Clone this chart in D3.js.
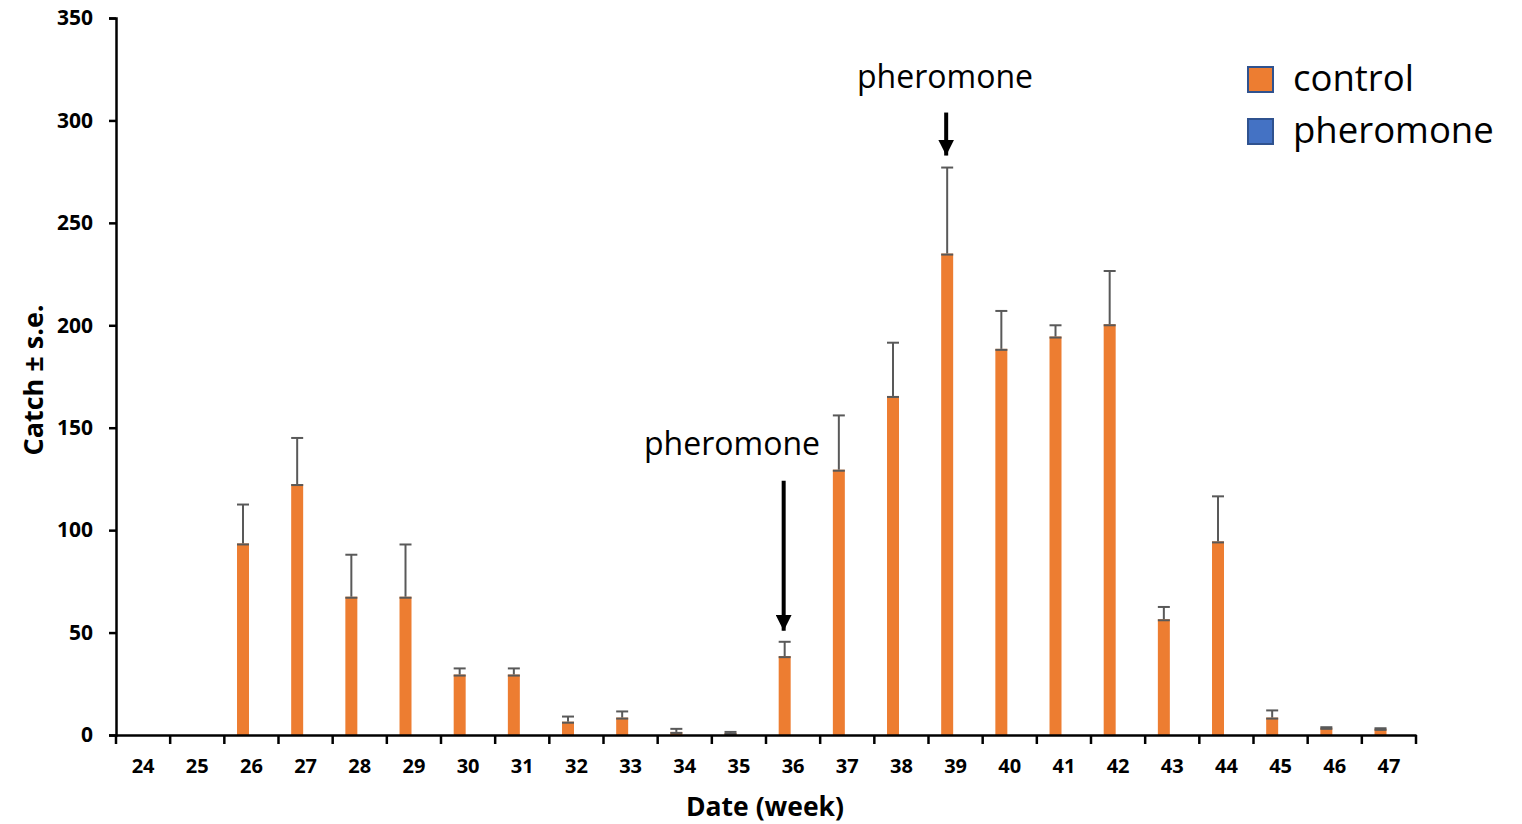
<!DOCTYPE html>
<html>
<head>
<meta charset="utf-8">
<script src="https://cdn.jsdelivr.net/npm/d3@7"></script>
<style>
body { margin: 0; background: #fff; }
text { font-family: "Open Sans", "Noto Sans", sans-serif; }
</style>
</head>
<body>
<script>
var w = 1522;
var h = 824;

var weeks = ["24","25","26","27","28","29","30","31","32","33","34","35","36","37","38","39","40","41","42","43","44","45","46","47"];
var control = [0, 0, 93.5, 122.5, 67.5, 67.5, 29.5, 29.5, 6.5, 8.5, 1.5, 1, 38.5, 129.5, 165.5, 235, 188.5, 194.5, 200.5, 56.5, 94.5, 8.5, 3.5, 3];
var controlErr = [0, 0, 19, 22.5, 20.5, 25.5, 3, 3, 2.5, 3, 1.5, 0.5, 7, 26.5, 26, 42, 18.5, 5.5, 26, 6, 22, 3.5, 0.3, 0.3];
var pheromone = [0, 0, 0, 0, 0, 0, 0, 0, 0, 0, 0, 0, 0, 0, 0, 0, 0, 0, 0, 0, 0, 0, 0, 0];
var yTicks = [0, 50, 100, 150, 200, 250, 300, 350];
var seriesNames = ["control", "pheromone"];
var seriesColors = ["#ed7d31", "#4472c4"];

var margin = {left: 116, right: 106, top: 18, bottom: 89};

var svg = d3.select("body")
    .append("svg")
    .attr("width", w)
    .attr("height", h);

var x = d3.scaleBand()
    .domain(weeks)
    .range([margin.left, w - margin.right]);

// two bars per week, control on the left, pheromone (empty) on the right
var x1 = d3.scaleBand()
    .domain(seriesNames)
    .range([0, x.bandwidth()])
    .paddingInner(0)
    .paddingOuter(1.26)
    .align(0.42);

var y = d3.scaleLinear()
    .domain([0, 350])
    .range([h - margin.bottom, margin.top]);

// bars
svg.selectAll("rect.control")
    .data(control)
    .enter()
    .append("rect")
    .attr("class", "control")
    .attr("x", function(d, i) { return x(weeks[i]) + x1("control"); })
    .attr("width", x1.bandwidth())
    .attr("y", function(d) { return y(d); })
    .attr("height", function(d) { return y(0) - y(d); })
    .attr("fill", seriesColors[0]);

// error bars
var errG = svg.append("g")
    .attr("stroke", "#595959")
    .attr("stroke-width", 2);

control.forEach(function(d, i) {
    if (d <= 0) return;
    var cx = x(weeks[i]) + x1("control") + x1.bandwidth() / 2;
    var top = y(d + controlErr[i]);
    errG.append("line")
        .attr("x1", cx).attr("x2", cx)
        .attr("y1", y(d)).attr("y2", top);
    errG.append("line")
        .attr("x1", cx - 6).attr("x2", cx + 6)
        .attr("y1", top).attr("y2", top);
    errG.append("line")
        .attr("x1", cx - 6).attr("x2", cx + 6)
        .attr("y1", y(d) + 1).attr("y2", y(d) + 1);
});

// y axis
var yAxis = svg.append("g")
    .attr("transform", "translate(" + margin.left + ",0)")
    .call(d3.axisLeft(y).tickValues(yTicks).tickSize(7).tickPadding(16));
yAxis.select(".domain").attr("stroke-width", 2.5);
yAxis.selectAll(".tick line").attr("stroke-width", 2.5);
yAxis.selectAll("text")
    .attr("font-size", "21px")
    .attr("font-weight", "bold")
    .attr("font-family", "'Open Sans', sans-serif")
    .attr("fill", "#000");

// x axis
var xAxis = svg.append("g")
    .attr("transform", "translate(0," + y(0) + ")")
    .call(d3.axisBottom(x).tickSize(0).tickPadding(24));
xAxis.select(".domain").attr("stroke-width", 2.5);
xAxis.selectAll("text")
    .attr("font-size", "20px")
    .attr("font-weight", "bold")
    .attr("font-family", "'Open Sans', sans-serif")
    .attr("fill", "#000");

var bounds = weeks.map(function(d) { return x(d); }).concat([x.range()[1]]);
svg.append("g")
    .selectAll("line")
    .data(bounds)
    .enter()
    .append("line")
    .attr("x1", function(d) { return d; })
    .attr("x2", function(d) { return d; })
    .attr("y1", y(0))
    .attr("y2", y(0) + 9)
    .attr("stroke", "black")
    .attr("stroke-width", 2.5);

// axis titles
svg.append("text")
    .attr("x", 765)
    .attr("y", 816)
    .attr("text-anchor", "middle")
    .attr("font-size", "26.5px")
    .attr("font-weight", "bold")
    .text("Date (week)");

svg.append("text")
    .attr("transform", "translate(43," + 380 + ") rotate(-90)")
    .attr("text-anchor", "middle")
    .attr("font-size", "27px")
    .attr("font-weight", "bold")
    .text("Catch ± s.e.");

// annotations
svg.append("defs").append("marker")
    .attr("id", "arrow")
    .attr("viewBox", "0 0 10 10")
    .attr("refX", 10).attr("refY", 5)
    .attr("markerWidth", 4).attr("markerHeight", 4)
    .attr("markerUnits", "strokeWidth")
    .attr("orient", "auto")
    .append("path")
    .attr("d", "M0,0 L10,5 L0,10 z")
    .attr("fill", "black");

var notes = [
    {week: "39", value: 277, len: 43, tx: 945, ty: 88},
    {week: "36", value: 45, len: 150, tx: 732, ty: 455}
];
notes.forEach(function(n) {
    var cx = x(n.week) + x1("control") + x1.bandwidth() / 2 - 1;
    var endY = y(n.value) - 12;
    svg.append("line")
        .attr("x1", cx).attr("x2", cx)
        .attr("y1", endY - n.len).attr("y2", endY)
        .attr("stroke", "black")
        .attr("stroke-width", 4)
        .attr("marker-end", "url(#arrow)");
    svg.append("text")
        .attr("x", n.tx).attr("y", n.ty)
        .attr("text-anchor", "middle")
        .attr("font-size", "32px")
        .text("pheromone");
});

// legend
var legend = svg.append("g")
    .selectAll("g")
    .data(seriesNames)
    .enter()
    .append("g")
    .attr("transform", function(d, i) { return "translate(1248," + (67 + i * 52) + ")"; });
legend.append("rect")
    .attr("width", 25)
    .attr("height", 25)
    .attr("fill", function(d, i) { return seriesColors[i]; })
    .attr("stroke", "#2f528f")
    .attr("stroke-width", 2);
legend.append("text")
    .attr("x", 45)
    .attr("y", 24)
    .attr("font-size", "36.5px")
    .text(function(d) { return d; });
</script>
</body>
</html>
